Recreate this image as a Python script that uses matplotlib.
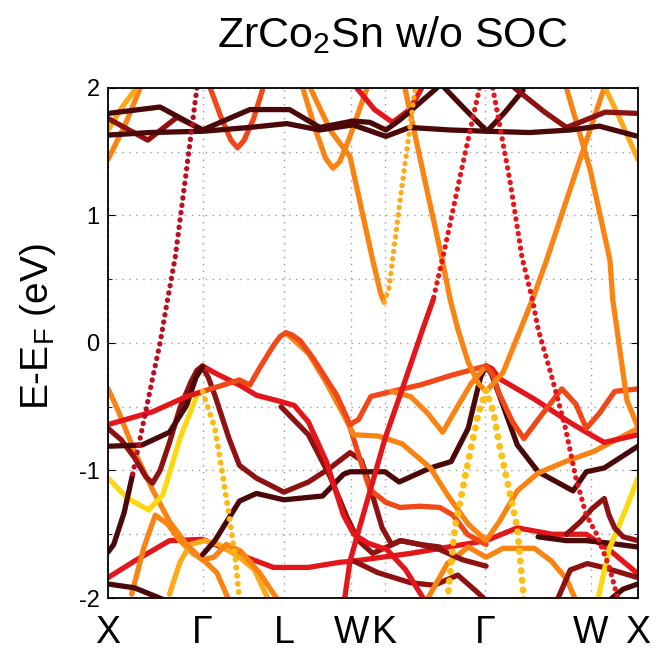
import numpy as np
import matplotlib.pyplot as plt
from matplotlib.ticker import MultipleLocator

plt.rcParams['font.family'] = ['Liberation Sans', 'DejaVu Sans']
plt.rcParams['mathtext.fontset'] = 'custom'
plt.rcParams['mathtext.rm'] = 'Liberation Sans'
plt.rcParams['mathtext.it'] = 'Liberation Sans'

# high-symmetry path X-G-L-W-K-G-W-X (2pi/a units)
kpath_pos = [0.0, 1.0, 1.866, 2.573, 2.927, 3.988, 5.106, 5.606]
kpath_lab = ['X', 'Γ', 'L', 'W', 'K', 'Γ', 'W', 'X']

# palette (low -> high projected weight)
c_dk = '#4a0808'
c_dr = '#8e1212'
c_rd = '#e3161c'
c_or = '#f04818'
c_og = '#f98414'
c_lo = '#fcaa18'
c_ye = '#fcd80e'

# ---- bands above E_F : (k, E in eV)
b_flat = [(0, 1.63), (0.44, 1.65), (1.0, 1.66), (1.50, 1.69), (1.89, 1.72), (2.24, 1.67),
          (2.59, 1.71), (2.94, 1.62), (3.19, 1.69), (3.62, 1.67), (4.01, 1.66),
          (4.46, 1.65), (4.89, 1.67), (5.20, 1.70), (5.606, 1.62)]
b_up1 = [(0, 1.80), (0.55, 1.85), (1.0, 1.67), (1.50, 1.83), (1.92, 1.83), (2.24, 1.69),
         (2.59, 1.74), (2.77, 1.73), (2.94, 1.67), (3.09, 1.75), (3.48, 2.0)]
b_up2 = [(3.56, 2.0), (3.78, 1.83), (4.01, 1.66), (4.20, 1.81), (4.39, 1.98)]
b_up3 = [(4.30, 2.0), (4.62, 1.81), (4.85, 1.69), (4.99, 1.73), (5.26, 1.81), (5.606, 1.80)]
b_up4 = [(0, 1.76), (0.42, 1.59), (0.73, 1.77), (1.0, 1.67)]
b_xo1 = [(0, 1.44), (0.18, 1.71), (0.34, 2.0)]
b_xo2 = [(0, 1.67), (0.15, 1.85), (0.30, 2.0)]
b_glu = [(1.08, 2.0), (1.20, 1.76), (1.30, 1.59), (1.37, 1.53), (1.44, 1.59), (1.54, 1.76),
         (1.64, 2.0)]
b_lwu = [(2.06, 2.0), (2.20, 1.66), (2.30, 1.45), (2.38, 1.37), (2.45, 1.42), (2.55, 1.60),
         (2.74, 2.0)]
b_kv = [(2.14, 2.0), (2.35, 1.67), (2.56, 1.46), (2.80, 0.65), (2.88, 0.40), (2.92, 0.32)]
b_kdot = [(2.92, 0.32), (2.97, 0.42), (3.09, 1.12), (3.25, 2.0)]
b_wku = [(2.63, 2.0), (2.82, 1.83), (3.01, 1.73), (3.19, 1.83), (3.32, 2.0)]
b_kgo = [(3.14, 2.0), (3.35, 1.28), (3.53, 0.67), (3.62, 0.34), (3.70, 0.11), (3.81, -0.15),
         (3.92, -0.32), (4.0, -0.38)]
b_kgdot = [(3.93, 2.0), (3.74, 1.36), (3.56, 0.73), (3.44, 0.34)]
b_kgred = [(3.44, 0.34), (3.33, 0.11), (3.15, -0.28), (2.93, -0.75), (2.78, -1.14),
           (2.64, -1.50), (2.56, -1.71), (2.50, -2.02)]
b_gwdot = [(4.07, 2.0), (4.25, 1.28), (4.38, 0.67), (4.49, 0.34), (4.55, 0.11), (4.70, -0.28),
           (4.84, -0.67), (4.95, -1.06), (5.06, -1.35), (5.17, -1.50), (5.30, -1.75), (5.40, -2.02)]
b_gwo = [(4.0, -0.38), (4.18, -0.23), (4.49, 0.34), (4.64, 0.65), (4.94, 1.32), (5.24, 1.98)]
b_wxo = [(4.85, 2.0), (5.10, 1.36), (5.31, 0.65), (5.34, 0.34), (5.49, -0.45), (5.606, -0.66)]
b_xlo = [(5.26, 2.0), (5.42, 1.75), (5.606, 1.44)]

# ---- bands around and below E_F
b_xgdot = [(0.94, 2.0), (0.82, 1.30), (0.71, 0.67), (0.62, 0.30), (0.55, 0.0), (0.47, -0.28),
           (0.375, -0.62), (0.26, -1.03)]
b_xglow = [(0.26, -1.03), (0.17, -1.33), (0.06, -1.58), (0, -1.64)]
b_F = [(0, -0.36), (0.10, -0.52), (0.28, -0.85), (0.47, -1.15), (0.65, -1.40), (0.83, -1.58),
       (1.0, -1.70), (1.12, -1.68), (1.25, -1.58), (1.40, -1.63), (1.60, -1.80), (1.80, -2.02)]
b_B1 = [(0, -0.64), (0.47, -0.54), (0.83, -0.42), (1.0, -0.38)]
b_B2 = [(1.0, -0.38), (1.39, -0.29), (1.50, -0.33), (1.60, -0.20), (1.75, -0.02), (1.82, 0.05),
        (1.88, 0.08), (1.94, 0.065), (2.03, 0.02), (2.17, -0.12), (2.42, -0.41), (2.56, -0.64),
        (2.65, -0.60), (2.78, -0.42), (3.0, -0.38), (3.3, -0.33), (3.65, -0.25), (4.0, -0.18)]
b_L2 = [(1.88, 0.08), (2.12, -0.08), (2.30, -0.30), (2.49, -0.56), (2.60, -0.72), (2.86, -0.73),
        (3.11, -0.79), (3.41, -0.98), (3.59, -1.19), (3.81, -1.42), (4.0, -1.55),
        (4.14, -1.40), (4.33, -1.16), (4.55, -1.02), (4.84, -0.93), (5.14, -0.85),
        (5.606, -0.67)]
b_Wdn = [(2.56, -0.66), (2.66, -0.90), (2.77, -1.15), (2.94, -1.25), (3.09, -1.29),
         (3.30, -1.28), (3.51, -1.29), (3.65, -1.35), (3.80, -1.50), (4.0, -1.58)]
b_KGv = [(3.0, -0.38), (3.20, -0.42), (3.38, -0.55), (3.54, -0.70), (3.68, -0.52),
         (3.84, -0.32), (4.0, -0.18)]
b_Cl = [(0, -0.67), (0.14, -0.76), (0.28, -0.90), (0.40, -1.05), (0.47, -1.10), (0.55, -1.0),
        (0.65, -0.78), (0.76, -0.51), (0.88, -0.30), (0.94, -0.215), (1.0, -0.18)]
b_Cr = [(1.0, -0.18), (1.07, -0.21), (1.17, -0.25), (1.39, -0.33), (1.57, -0.41), (1.83, -0.46),
        (1.97, -0.49), (2.12, -0.62), (2.31, -0.93), (2.49, -1.35), (2.60, -1.50),
        (2.75, -1.57), (2.95, -1.62), (3.15, -1.78), (3.35, -2.02)]
b_Cr2 = [(1.83, -0.50), (2.12, -0.72), (2.35, -1.05), (2.53, -1.37), (2.65, -1.55),
         (2.80, -1.65), (2.95, -1.60), (3.10, -1.55), (3.30, -1.58), (3.51, -1.60)]
b_D = [(0, -0.81), (0.36, -0.80), (0.65, -0.70), (0.83, -0.49), (0.93, -0.27), (1.0, -0.19)]
b_N = [(1.0, -0.19), (1.06, -0.27), (1.13, -0.41), (1.28, -0.75), (1.39, -0.96), (1.57, -1.06),
       (1.86, -1.17), (2.12, -1.09), (2.35, -0.98), (2.56, -0.86), (2.68, -0.92),
       (2.78, -1.15), (2.90, -1.45), (3.0, -1.58), (3.09, -1.55), (3.30, -1.58),
       (3.51, -1.62), (3.75, -1.70), (4.0, -1.75)]
b_M = [(1.0, -1.66), (1.13, -1.55), (1.39, -1.24), (1.57, -1.18), (1.86, -1.23), (2.27, -1.20),
       (2.49, -1.03), (2.56, -1.01), (2.93, -1.01), (3.08, -1.09), (3.41, -0.98),
       (3.63, -0.93), (3.81, -0.67), (3.94, -0.27), (4.0, -0.18), (4.06, -0.25),
       (4.14, -0.41), (4.33, -0.80), (4.55, -1.01), (4.92, -1.16), (5.06, -1.01),
       (5.25, -0.98), (5.606, -0.81)]
b_Eye = [(0, -1.06), (0.21, -1.22), (0.43, -1.31), (0.58, -1.19), (0.76, -0.75), (0.94, -0.41),
         (1.0, -0.38)]
b_Edot = [(1.0, -0.38), (1.13, -0.67), (1.20, -0.98), (1.28, -1.35), (1.35, -1.71), (1.39, -2.02)]
b_G2 = [(4.0, -0.18), (4.06, -0.20), (4.14, -0.28), (4.51, -0.44), (4.88, -0.62), (5.06, -0.70),
        (5.25, -0.78), (5.606, -0.72)]
b_H = [(4.0, -0.18), (4.07, -0.25), (4.14, -0.40), (4.28, -0.62), (4.40, -0.75), (4.55, -0.60),
       (4.80, -0.36), (4.95, -0.48), (5.06, -0.67), (5.20, -0.55), (5.36, -0.38),
       (5.606, -0.36)]
b_Idot = [(3.59, -2.02), (3.67, -1.45), (3.81, -0.93), (3.92, -0.55), (4.0, -0.37), (4.08, -0.55),
          (4.14, -0.80), (4.33, -1.45), (4.40, -2.02)]
b_G2bot = [(3.37, -2.02), (3.59, -1.73), (3.81, -1.60), (4.0, -1.68), (4.18, -1.61),
           (4.51, -1.61), (4.69, -1.71), (4.85, -1.85), (4.95, -2.02)]
b_K = [(0, -1.89), (0.28, -1.92), (0.61, -2.02)]
b_low = [(0, -1.84), (0.28, -1.71), (0.65, -1.55), (1.0, -1.54), (1.39, -1.66), (1.75, -1.76),
         (2.12, -1.76), (2.45, -1.72), (2.60, -1.71), (2.90, -1.68), (3.20, -1.65),
         (3.60, -1.60), (4.0, -1.55), (4.33, -1.45), (4.70, -1.50), (5.06, -1.50),
         (5.30, -1.62), (5.606, -1.81)]
b_low2 = [(2.60, -1.71), (2.85, -1.80), (3.20, -1.88), (3.45, -1.90), (3.70, -1.82),
          (3.90, -1.95), (4.0, -2.02)]
b_Ho = [(0.25, -1.97), (0.38, -1.60), (0.50, -1.35), (0.63, -1.42), (0.76, -1.55),
        (0.90, -1.65), (1.02, -1.71), (1.15, -1.80), (1.28, -2.02)]
b_Ho2 = [(0.65, -1.97), (0.76, -1.72), (0.87, -1.58), (1.02, -1.55), (1.17, -1.58),
         (1.39, -1.68), (1.55, -1.78), (1.70, -2.02)]
b_zig = [(4.85, -1.50), (5.0, -1.40), (5.12, -1.30), (5.20, -1.25), (5.25, -1.22), (5.30, -1.35),
         (5.36, -1.45), (5.45, -1.52), (5.606, -1.55)]
b_R3 = [(4.55, -1.52), (4.85, -1.55), (5.06, -1.55), (5.30, -1.57), (5.606, -1.60)]
b_R4 = [(4.75, -2.02), (4.89, -1.78), (5.07, -1.73), (5.24, -1.76), (5.606, -1.84)]
b_R5 = [(5.30, -2.02), (5.45, -1.93), (5.606, -1.89)]
b_R6 = [(5.606, -1.06), (5.48, -1.30), (5.30, -1.62), (5.18, -2.02)]

solid = [
    (b_low, c_rd), (b_low2, c_dr), (b_Ho, c_og), (b_Ho2, c_lo), (b_F, c_og), (b_G2bot, c_og),
    (b_R3, c_dk), (b_R4, c_dr), (b_R5, c_dk), (b_R6, c_ye), (b_zig, c_dr), (b_K, c_dk),
    (b_Cr2, c_dr), (b_N, c_dr), (b_Wdn, c_or), (b_M, c_dk), (b_Cr, c_rd), (b_Cl, c_dr),
    (b_D, c_dk), (b_Eye, c_ye), (b_B1, c_rd), (b_L2, c_og), (b_B2, c_or), (b_KGv, c_og),
    (b_G2, c_rd), (b_H, c_or), (b_kgred, c_rd), (b_xglow, c_dk),
    (b_xo1, c_og), (b_xo2, c_lo), (b_glu, c_or), (b_lwu, c_og), (b_kv, c_og),
    (b_wku, c_rd), (b_kgo, c_og), (b_gwo, c_og), (b_wxo, c_og), (b_xlo, c_lo),
    (b_up4, c_dr), (b_up2, c_dk), (b_up3, c_dr), (b_up1, c_dk), (b_flat, c_dk),
]
dotted = [(b_xgdot, '#b80f22', 3.8), (b_kdot, c_lo, 3.8), (b_kgdot, c_rd, 3.8),
          (b_gwdot, c_rd, 3.8), (b_Edot, '#fcb814', 4.2), (b_Idot, '#fcc014', 5.0)]

fig = plt.figure(figsize=(6.59, 6.54), dpi=100)
ax = fig.add_axes([0.164, 0.0856, 0.804, 0.780])

for pts, col in solid:
    k, e = np.array(pts).T
    ax.plot(k, e, color=col, lw=3.8, solid_capstyle='round', solid_joinstyle='round')
for pts, col, w in dotted:
    k, e = np.array(pts).T
    ax.plot(k, e, color=col, lw=w, linestyle=(0, (0.05, 1.35)), dash_capstyle='round')

ax.set_xlim(kpath_pos[0], kpath_pos[-1])
ax.set_ylim(-2, 2)
ax.set_xticks(kpath_pos)
ax.set_xticklabels(kpath_lab, fontsize=27)
ax.set_yticks([-2, -1, 0, 1, 2])
ax.set_yticklabels(['-2', '-1', '0', '1', '2'], fontsize=17)
ax.yaxis.set_minor_locator(MultipleLocator(0.5))
ax.tick_params(axis='y', which='major', direction='in', length=5, right=True, pad=6)
ax.tick_params(axis='y', which='minor', direction='in', length=3, right=True)
ax.tick_params(axis='x', direction='in', length=0, pad=12)
ax.grid(True, which='major', axis='x', color='#9a9a9a', linestyle=(0, (1, 4)), lw=1.0)
ax.grid(True, which='both', axis='y', color='#9a9a9a', linestyle=(0, (1, 4)), lw=1.0)
for s in ax.spines.values():
    s.set_linewidth(1.3)

fig.text(0.058, 0.50, r'E-E$_\mathregular{F}$ (eV)', fontsize=28, rotation=90,
         ha='center', va='center')
fig.text(0.596, 0.946, r'ZrCo$_\mathregular{2}$Sn w/o SOC', fontsize=31,
         ha='center', va='center')

fig.savefig('out.png', dpi=100)
